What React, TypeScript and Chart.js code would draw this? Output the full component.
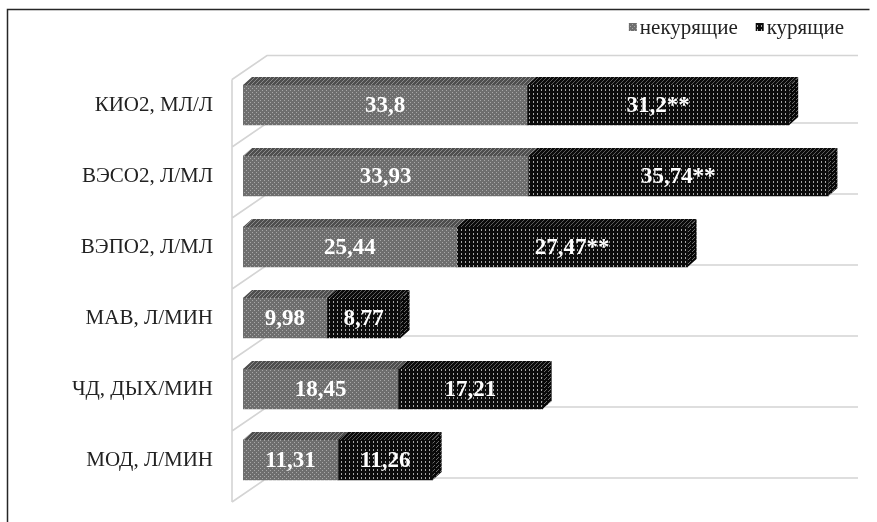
import { useEffect, useRef } from "react";
import { Chart, registerables } from "chart.js";

Chart.register(...registerables);

// Respiratory indicators: non-smokers vs smokers
const categories = [
  "КИО2, МЛ/Л",
  "ВЭСО2, Л/МЛ",
  "ВЭПО2, Л/МЛ",
  "МАВ, Л/МИН",
  "ЧД, ДЫХ/МИН",
  "МОД, Л/МИН",
];
const seriesNames = ["некурящие", "курящие"];
const nonSmokers = [33.8, 33.93, 25.44, 9.98, 18.45, 11.31];
const smokers = [31.2, 35.74, 27.47, 8.77, 17.21, 11.26];
const nonSmokerMarks = ["", "", "", "", "", ""];
const smokerMarks = ["**", "**", "**", "", "", ""];

const W = 877;
const H = 522;
const SERIF = "'Liberation Serif', 'Times New Roman', serif";
const DEPTH_X = 9;
const DEPTH_Y = 8;

type Drawer = (g: CanvasRenderingContext2D) => void;

function makePattern(w: number, h: number, bg: string, draw: Drawer): CanvasPattern | string {
  const c = document.createElement("canvas");
  c.width = w;
  c.height = h;
  const g = c.getContext("2d");
  if (!g) return bg;
  g.fillStyle = bg;
  g.fillRect(0, 0, w, h);
  draw(g);
  return g.createPattern(c, "repeat") || bg;
}

function fmt(v: number): string {
  return String(v).replace(".", ",");
}

export default function App() {
  const ref = useRef<HTMLCanvasElement | null>(null);

  useEffect(() => {
    document.body.style.margin = "0";
    const canvas = ref.current;
    if (!canvas) return;

    // front faces
    const greyFront = makePattern(4, 4, "#6e6e6e", (g) => {
      g.fillStyle = "#a8a8a8";
      g.fillRect(0, 0, 1, 1);
      g.fillRect(2, 2, 1, 1);
    });
    const blackFront = makePattern(4, 4, "#0c0c0c", (g) => {
      g.fillStyle = "#a8a8a8";
      g.fillRect(1, 1, 1, 2);
    });
    // top faces
    const greyTop = makePattern(4, 4, "#4e4e4e", (g) => {
      g.fillStyle = "#8a8a8a";
      g.fillRect(0, 3, 1, 1);
      g.fillRect(1, 2, 1, 1);
      g.fillRect(2, 1, 1, 1);
      g.fillRect(3, 0, 1, 1);
    });
    const blackTop = makePattern(4, 4, "#0a0a0a", (g) => {
      g.fillStyle = "#5a5a5a";
      g.fillRect(0, 3, 1, 1);
      g.fillRect(1, 2, 1, 1);
      g.fillRect(2, 1, 1, 1);
      g.fillRect(3, 0, 1, 1);
    });
    // side face of the outer segment
    const blackSide = makePattern(4, 4, "#080808", (g) => {
      g.fillStyle = "#6a6a6a";
      g.fillRect(0, 3, 1, 1);
      g.fillRect(1, 2, 1, 1);
      g.fillRect(2, 1, 1, 1);
    });
    const fronts = [greyFront, blackFront];
    const tops = [greyTop, blackTop];
    const marks = [nonSmokerMarks, smokerMarks];

    const wallPlugin = {
      id: "wall",
      beforeDatasetsDraw(chart: Chart) {
        const ctx = chart.ctx;
        const area = chart.chartArea;
        const y = chart.scales.y;
        const n = categories.length;
        const band = y.getPixelForValue(1) - y.getPixelForValue(0);
        const first = y.getPixelForValue(0) - band / 2;
        const frontX = area.left - 11;
        const backX = area.left + 24;
        const rightX = area.right + 10;
        ctx.save();
        ctx.strokeStyle = "#d4d4d4";
        ctx.lineWidth = 1.6;
        ctx.beginPath();
        ctx.moveTo(frontX, first + 10);
        ctx.lineTo(frontX, first + n * band + 6.5);
        for (let k = 0; k <= n; k++) {
          const b = first + k * band;
          const off = k === 0 ? 10 : 6.5;
          ctx.moveTo(frontX, b + off);
          ctx.lineTo(backX, b - 17.5 + (off - 6.5));
          ctx.lineTo(rightX, b - 17.5 + (off - 6.5));
        }
        ctx.stroke();
        ctx.restore();
      },
    };

    const boxPlugin = {
      id: "box3d",
      afterDatasetsDraw(chart: Chart) {
        const ctx = chart.ctx;
        const last = chart.data.datasets.length - 1;
        ctx.save();
        chart.data.datasets.forEach((_ds, d) => {
          const meta = chart.getDatasetMeta(d);
          meta.data.forEach((el: any) => {
            const p = el.getProps(["x", "y", "base", "height"], true);
            const top = p.y - p.height / 2;
            const bottom = p.y + p.height / 2;
            const l = Math.min(p.base, p.x);
            const r = Math.max(p.base, p.x);
            ctx.fillStyle = tops[d] as any;
            ctx.beginPath();
            ctx.moveTo(l, top);
            ctx.lineTo(l + DEPTH_X, top - DEPTH_Y);
            ctx.lineTo(r + DEPTH_X, top - DEPTH_Y);
            ctx.lineTo(r, top);
            ctx.closePath();
            ctx.fill();
            if (d === last) {
              ctx.fillStyle = blackSide as any;
              ctx.beginPath();
              ctx.moveTo(r, top);
              ctx.lineTo(r + DEPTH_X, top - DEPTH_Y);
              ctx.lineTo(r + DEPTH_X, bottom - DEPTH_Y);
              ctx.lineTo(r, bottom);
              ctx.closePath();
              ctx.fill();
            }
          });
        });
        // value labels
        ctx.fillStyle = "#ffffff";
        ctx.font = `bold 23px ${SERIF}`;
        ctx.textAlign = "center";
        ctx.textBaseline = "middle";
        chart.data.datasets.forEach((ds, d) => {
          const meta = chart.getDatasetMeta(d);
          meta.data.forEach((el: any, i: number) => {
            const p = el.getProps(["x", "y", "base"], true);
            const v = ds.data[i] as number;
            ctx.fillText(fmt(v) + marks[d][i], (p.base + p.x) / 2, p.y + 1);
          });
        });
        ctx.restore();
      },
    };

    const legendPlugin = {
      id: "legendRight",
      afterDraw(chart: Chart) {
        const ctx = chart.ctx;
        ctx.save();
        ctx.font = `21px ${SERIF}`;
        ctx.textBaseline = "middle";
        ctx.textAlign = "left";
        const cy = 27;
        let right = 844;
        const ds = chart.data.datasets;
        for (let d = ds.length - 1; d >= 0; d--) {
          const label = String(ds[d].label);
          const tw = ctx.measureText(label).width;
          const tx = right - tw;
          ctx.fillStyle = "#222222";
          ctx.fillText(label, tx, cy + 1);
          const bx = tx - 11;
          ctx.fillStyle = fronts[d] as any;
          ctx.fillRect(bx, cy - 4, 8, 8);
          right = bx - 18;
        }
        // frame
        ctx.strokeStyle = "#262626";
        ctx.lineWidth = 1.5;
        ctx.beginPath();
        ctx.moveTo(7.5, H);
        ctx.lineTo(7.5, 9.5);
        ctx.lineTo(869.5, 9.5);
        ctx.stroke();
        ctx.restore();
      },
    };

    const chart = new Chart(canvas, {
      type: "bar",
      data: {
        labels: categories,
        datasets: [
          {
            label: seriesNames[0],
            data: nonSmokers,
            backgroundColor: greyFront as any,
            borderWidth: 0,
            barThickness: 40,
          },
          {
            label: seriesNames[1],
            data: smokers,
            backgroundColor: blackFront as any,
            borderWidth: 0,
            barThickness: 40,
          },
        ],
      },
      options: {
        indexAxis: "y",
        responsive: false,
        animation: false,
        devicePixelRatio: 1,
        events: [],
        layout: { padding: { top: 69.5, bottom: 26.5, left: 0, right: 29 } },
        plugins: {
          legend: { display: false },
          tooltip: { enabled: false },
        },
        scales: {
          x: {
            stacked: true,
            min: 0,
            max: 72,
            display: false,
          },
          y: {
            stacked: true,
            grid: { display: false, drawTicks: false },
            border: { display: false },
            afterFit(scale: any) {
              scale.width = 243;
              scale.paddingTop = 0;
              scale.paddingBottom = 0;
            },
            ticks: {
              padding: 30,
              color: "#222222",
              font: { family: SERIF, size: 21 },
            },
          },
        },
      },
      plugins: [wallPlugin, boxPlugin, legendPlugin],
    });

    return () => {
      chart.destroy();
    };
  }, []);

  return (
    <div style={{ width: W, height: H, background: "#ffffff" }}>
      <canvas ref={ref} width={W} height={H} style={{ display: "block" }} />
    </div>
  );
}
